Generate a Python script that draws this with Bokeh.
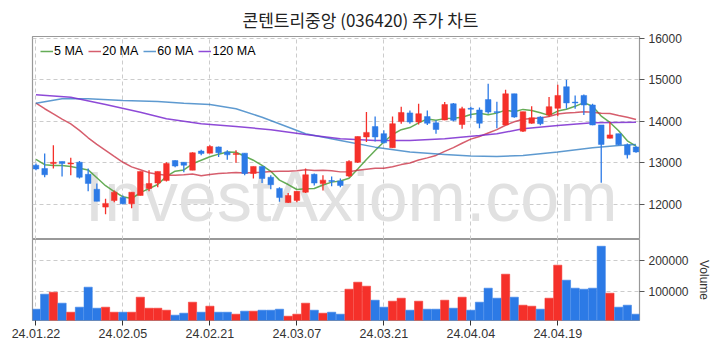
import numpy as np
from bokeh.plotting import figure
from bokeh.layouts import column
from bokeh.models import (Range1d, FixedTicker, ColumnDataSource, Label,
                          PrintfTickFormatter, Legend, LegendItem)
from bokeh.embed import file_html
from bokeh.resources import INLINE

title_text = "콘텐트리중앙 (036420) 주가 차트"
tick_idx = [0, 10, 20, 30, 40, 50, 60]
tick_labels = ["24.01.22", "24.02.05", "24.02.21", "24.03.07", "24.03.21", "24.04.04", "24.04.19"]

opens = [12940, 12860, 12980, 13030, 12970, 13010, 12720, 12360, 11930, 12090,
         12160, 12010, 12210, 12380, 12510, 12570, 13050, 13010, 12820, 13280,
         13230, 13380, 13260, 13200, 13230, 12740, 12910, 12650, 12380, 12040,
         12090, 12290, 12720, 12500, 12570, 12560, 12680, 13010, 13620, 13870,
         13700, 13360, 13990, 14200, 13980, 14110, 13960, 14030, 14420, 13920,
         14310, 14270, 14520, 14230, 13910, 14660, 13760, 13950, 14100, 14150,
         14310, 14830, 14460, 14620, 14390, 13910, 13590, 13700, 13430, 13380]
highs = [12980, 13220, 13420, 13030, 13120, 13040, 12860, 12500, 12130, 12330,
         12210, 12290, 12790, 12820, 12790, 13010, 13060, 13010, 13250, 13310,
         13420, 13390, 13300, 13300, 13230, 12910, 12910, 12700, 12410, 12270,
         12310, 12860, 12740, 12700, 12670, 12620, 13060, 13630, 14220, 14110,
         13780, 14110, 14350, 14260, 14420, 14260, 14020, 14460, 14440, 14350,
         14350, 14330, 14900, 14470, 14760, 14660, 14230, 14360, 14120, 14580,
         14880, 15000, 14620, 14640, 14420, 13910, 13980, 13700, 13460, 13400]
lows = [12820, 12650, 12860, 12670, 12700, 12620, 12310, 12070, 11760, 12050,
        12000, 11900, 12210, 12310, 12410, 12550, 12890, 12770, 12820, 13180,
        13230, 13140, 13070, 13000, 12700, 12620, 12510, 12360, 12060, 12030,
        12050, 12270, 12450, 12330, 12430, 12410, 12650, 12990, 13500, 13510,
        13460, 13360, 13940, 13940, 13920, 13910, 13700, 14020, 14000, 13820,
        14070, 13830, 14180, 13830, 13900, 14080, 13740, 13940, 13900, 14100,
        14120, 14300, 14300, 14150, 13900, 12520, 13580, 13420, 13100, 13240]
closes = [12850, 12710, 13010, 12980, 12990, 12650, 12500, 12070, 12020, 12290,
          12010, 12290, 12790, 12500, 12790, 12980, 12920, 12940, 13240, 13220,
          13390, 13240, 13190, 13220, 12740, 12910, 12620, 12470, 12160, 12210,
          12310, 12710, 12510, 12580, 12550, 12450, 13030, 13630, 13730, 13620,
          13480, 13940, 14210, 13980, 14180, 13950, 13800, 14400, 14020, 14300,
          14290, 13950, 14220, 14210, 14660, 14100, 14230, 14080, 13940, 14350,
          14620, 14440, 14440, 14390, 13910, 13440, 13670, 13430, 13190, 13260]
volumes = [43000, 91400, 97800, 62400, 33300, 49500, 114000, 46200, 49500, 33300,
           33300, 33300, 81700, 46200, 46200, 39800, 23700, 30100, 65600, 33300,
           52700, 33300, 33300, 26900, 36600, 36600, 39800, 39800, 43000, 20400,
           26900, 62400, 39800, 30100, 33300, 26900, 107500, 130100, 117200, 72000,
           49500, 68800, 78500, 39800, 68800, 43000, 43000, 72000, 46200, 81700,
           39800, 65600, 110800, 78500, 155900, 81700, 55900, 52700, 43000, 78500,
           185000, 136600, 110800, 107500, 110800, 246000, 94600, 49500, 55900, 26900]

ma5_head = [13079, 12952, 12935, 12935]
ma20_head = [14433, 14300, 14178, 14050, 13937, 13780, 13600, 13440, 13296, 13150,
             13010, 12900, 12830, 12760, 12720, 12695, 12700, 12710, 12730]
ma60_idx = [0, 3, 6, 10, 14, 17, 20, 23, 26, 31, 35, 39, 43, 47, 50, 53, 56, 60, 64, 67, 69]
ma60_val = [14433, 14538, 14538, 14498, 14474, 14433, 14401, 14298, 14096, 13697, 13536,
            13375, 13255, 13200, 13159, 13151, 13175, 13255, 13360, 13416, 13440]
ma120_idx = [0, 4, 8, 12, 15, 19, 23, 27, 31, 35, 39, 43, 47, 51, 53, 56, 60, 64, 69]
ma120_val = [14635, 14577, 14401, 14216, 14058, 13937, 13873, 13793, 13680, 13577, 13536,
             13536, 13577, 13656, 13697, 13817, 13897, 13961, 13976]

UP = "#f5302a"
DOWN = "#2c7ae6"
FONT = "Liberation Sans"

n = len(closes)
x = np.arange(n)
o = np.array(opens, float); c = np.array(closes, float)
h = np.array(highs, float); l = np.array(lows, float)
up = c >= o
colors = [UP if u else DOWN for u in up]

cl = np.array(closes, float)
ma5 = list(ma5_head) + [cl[i - 4:i + 1].mean() for i in range(len(ma5_head), n)]
ma20 = list(ma20_head) + [cl[i - 19:i + 1].mean() for i in range(len(ma20_head), n)]

src = ColumnDataSource(dict(x=x, o=o, c=c, h=h, l=l,
                            top=np.maximum(o, c), bottom=np.minimum(o, c),
                            color=colors, vol=volumes))

def style(fig):
    fig.outline_line_color = "#999999"
    fig.outline_line_width = 1.2
    fig.background_fill_color = "white"
    fig.border_fill_color = "white"
    fig.xgrid.ticker = FixedTicker(ticks=tick_idx)
    for g in (fig.xgrid, fig.ygrid):
        g.grid_line_color = "#cccccc"
        g.grid_line_dash = "4 3"
        g.grid_line_width = 1
    for ax in fig.yaxis:
        ax.axis_line_color = None
        ax.major_tick_line_color = "#555555"
        ax.major_tick_out = 5
        ax.major_tick_in = 0
        ax.minor_tick_line_color = None
        ax.major_label_text_font = FONT
        ax.major_label_text_font_size = "12px"
        ax.major_label_text_color = "#333333"
        ax.major_label_standoff = 4

xr = Range1d(-0.4, n - 0.6)

p = figure(frame_width=607, frame_height=203, x_range=xr, y_range=Range1d(11150, 16040),
           y_axis_location="right", x_axis_location=None, toolbar_location=None,
           output_backend="svg", min_border_left=32, min_border_right=10,
           min_border_top=0, min_border_bottom=0, title=title_text)
p.title.align = "left"
p.title.offset = 210
p.title.text_font = "Noto Sans CJK KR"
p.title.text_font_size = "17px"
p.title.text_font_style = "normal"
p.title.text_color = "#222222"
p.title.standoff = 9
style(p)
p.yaxis.ticker = FixedTicker(ticks=[12000, 13000, 14000, 15000, 16000])

wm = Label(x=5.6, y=12166, text="InvestAxiom.com", text_font=FONT, text_font_size="70px",
           text_color="#e1e1e1", text_baseline="alphabetic", level="underlay")
p.add_layout(wm)

r5 = p.line(x, ma5, line_color="#4a9e38", line_width=1.5, line_alpha=0.85)
r20 = p.line(x, ma20, line_color="#c8283c", line_width=1.5, line_alpha=0.75)
r60 = p.line(ma60_idx, ma60_val, line_color="#2878c0", line_width=1.5, line_alpha=0.75)
r120 = p.line(ma120_idx, ma120_val, line_color="#7a2ad0", line_width=1.5, line_alpha=0.85)

p.segment(x0="x", y0="h", x1="x", y1="l", color="color", line_width=1.3, source=src)
p.vbar(x="x", top="top", bottom="bottom", width=0.65, fill_color="color",
       line_color="color", line_width=0.5, source=src)

legend = Legend(items=[LegendItem(label="5 MA", renderers=[r5]),
                       LegendItem(label="20 MA", renderers=[r20]),
                       LegendItem(label="60 MA", renderers=[r60]),
                       LegendItem(label="120 MA", renderers=[r120])],
                orientation="horizontal", location="top_left",
                border_line_color=None, background_fill_alpha=0,
                glyph_width=13, glyph_height=12, label_height=12,
                label_standoff=1, spacing=5, padding=2, margin=8,
                label_text_font="Liberation Sans", label_text_font_size="12.5px",
                label_text_color="#000000")
p.add_layout(legend)

v = figure(frame_width=607, frame_height=81, x_range=xr, y_range=Range1d(6450, 267700),
           y_axis_location="right", toolbar_location=None, output_backend="svg",
           min_border_left=32, min_border_right=10, min_border_top=0, min_border_bottom=4)
style(v)
v.vbar(x="x", top="vol", bottom=0, width=0.95, fill_color="color", line_color="color",
       line_width=0.5, source=src)
v.yaxis.ticker = FixedTicker(ticks=[100000, 200000])
v.yaxis.formatter = PrintfTickFormatter(format="%d")
v.yaxis.axis_label = "Volume"
v.yaxis.axis_label_text_font = FONT
v.yaxis.axis_label_text_font_size = "12px"
v.yaxis.axis_label_text_font_style = "normal"
v.yaxis.axis_label_text_color = "#333333"
v.yaxis.axis_label_standoff = 5
xa = v.xaxis[0]
xa.ticker = FixedTicker(ticks=tick_idx)
xa.major_label_overrides = {i: s for i, s in zip(tick_idx, tick_labels)}
xa.axis_line_color = None
xa.major_tick_line_color = "#333333"
xa.major_tick_out = 5
xa.major_tick_in = 0
xa.minor_tick_line_color = None
xa.major_label_text_font = FONT
xa.major_label_text_font_size = "12.5px"
xa.major_label_text_color = "#333333"
xa.major_label_standoff = 3

layout = column(p, v, spacing=0)
open("out.html", "w").write(file_html(layout, INLINE))
